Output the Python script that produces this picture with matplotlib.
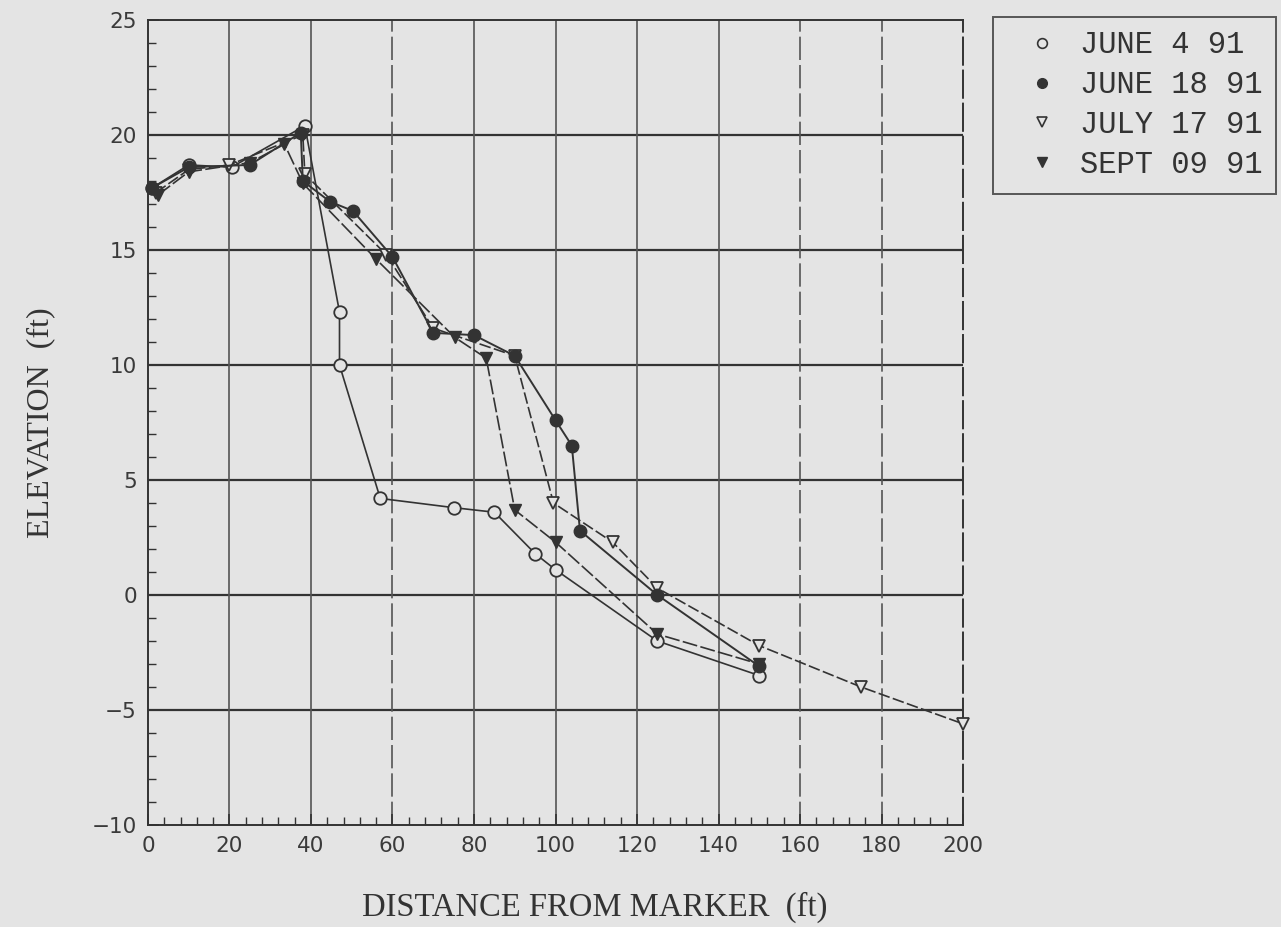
import matplotlib.pyplot as plt
from matplotlib.ticker import MultipleLocator
from matplotlib.lines import Line2D

# survey profiles, distance (ft) vs elevation (ft)
june4_x = [1, 10, 20.5, 38.5, 47, 47, 57, 75, 85, 95, 100, 125, 150]
june4_y = [17.7, 18.7, 18.6, 20.4, 12.3, 10.0, 4.2, 3.8, 3.6, 1.8, 1.1, -2.0, -3.5]

june18_x = [1, 10, 25, 37.5, 38, 44.7, 50.3, 60, 70, 80, 90, 100, 104, 106, 125, 150]
june18_y = [17.7, 18.6, 18.7, 20.1, 18.0, 17.1, 16.7, 14.7, 11.4, 11.3, 10.4, 7.6, 6.5, 2.8, 0.0, -3.1]

july17_x = [2, 10, 20, 38, 38.5, 58.5, 70, 90, 99.5, 114, 125, 150, 175, 200]
july17_y = [17.5, 18.5, 18.7, 20.0, 18.3, 14.8, 11.6, 10.4, 4.0, 2.3, 0.3, -2.2, -4.0, -5.6]

sept9_x = [2.5, 10, 25, 33.5, 38, 56, 75.3, 83, 90, 100, 125, 150]
sept9_y = [17.4, 18.4, 18.8, 19.6, 17.9, 14.6, 11.2, 10.3, 3.7, 2.3, -1.7, -3.0]

labels = ['JUNE 4 91', 'JUNE 18 91', 'JULY 17 91', 'SEPT 09 91']

bg = '#e4e4e4'
ink = '#333333'

fig = plt.figure(figsize=(12.81, 9.27), dpi=100, facecolor=bg)
ax = fig.add_axes([0.1155, 0.110, 0.6363, 0.8684], facecolor=bg)

ax.set_xlim(0, 200)
ax.set_ylim(-10, 25)

# grid: solid horizontals, vertical lines partly broken like the scan
for yv in range(-5, 25, 5):
    ax.axhline(yv, color=ink, lw=1.6, zorder=1)
for xv in range(20, 200, 20):
    ls = (0, (14, 3)) if xv in (60, 160, 180) else '-'
    ax.axvline(xv, color='#555555', lw=1.2, ls=ls, zorder=1)

ax.plot(june4_x, june4_y, color=ink, lw=1.2, marker='o', ms=9,
        mfc=bg, mec=ink, mew=1.3, zorder=3, clip_on=False)
ax.plot(june18_x, june18_y, color=ink, lw=1.4, marker='o', ms=9,
        mfc=ink, mec=ink, zorder=4, clip_on=False)
ax.plot(july17_x, july17_y, color=ink, lw=1.2, ls=(0, (7, 2)), marker='v', ms=9,
        mfc=bg, mec=ink, mew=1.3, zorder=3, clip_on=False)
ax.plot(sept9_x, sept9_y, color=ink, lw=1.2, ls=(0, (9, 2)), marker='v', ms=9,
        mfc=ink, mec=ink, zorder=4, clip_on=False)

for side in ['left', 'bottom', 'top', 'right']:
    ax.spines[side].set_color(ink)
    ax.spines[side].set_linewidth(1.4)
ax.spines['right'].set_linestyle((0, (14, 3)))

ax.xaxis.set_major_locator(MultipleLocator(20))
ax.xaxis.set_minor_locator(MultipleLocator(4))
ax.yaxis.set_major_locator(MultipleLocator(5))
ax.yaxis.set_minor_locator(MultipleLocator(1))
ax.tick_params(which='both', direction='in', colors=ink, top=False, right=False)
ax.tick_params(which='major', length=8, width=1.2, labelsize=15.5, pad=8)
ax.tick_params(which='minor', length=6, width=1.0)
for t in ax.get_xticklabels() + ax.get_yticklabels():
    t.set_color('#3a3a3a')

ax.set_xlabel('DISTANCE FROM MARKER  (ft)', family='Liberation Serif',
              fontsize=23.5, color=ink, va='center')
ax.xaxis.set_label_coords(0.548, -0.102)
ax.set_ylabel('ELEVATION  (ft)', family='Liberation Serif',
              fontsize=23, color=ink, labelpad=26)

handles = [
    Line2D([], [], ls='none', marker='o', ms=7, mfc=bg, mec=ink, mew=1.2),
    Line2D([], [], ls='none', marker='o', ms=7, mfc=ink, mec=ink),
    Line2D([], [], ls='none', marker='v', ms=7, mfc=bg, mec=ink, mew=1.2),
    Line2D([], [], ls='none', marker='v', ms=7, mfc=ink, mec=ink),
]
leg = fig.legend(handles, labels, loc='upper left', bbox_to_anchor=(0.775, 0.982),
                 frameon=True, fancybox=False, edgecolor=ink, facecolor=bg,
                 prop={'family': 'Liberation Mono', 'size': 22},
                 handletextpad=0.1, labelspacing=0.32, borderpad=0.45,
                 handlelength=2.3, borderaxespad=0)
leg.get_frame().set_linewidth(1.4)
for t in leg.get_texts():
    t.set_color(ink)

fig.savefig('out.png', dpi=100, facecolor=bg)
